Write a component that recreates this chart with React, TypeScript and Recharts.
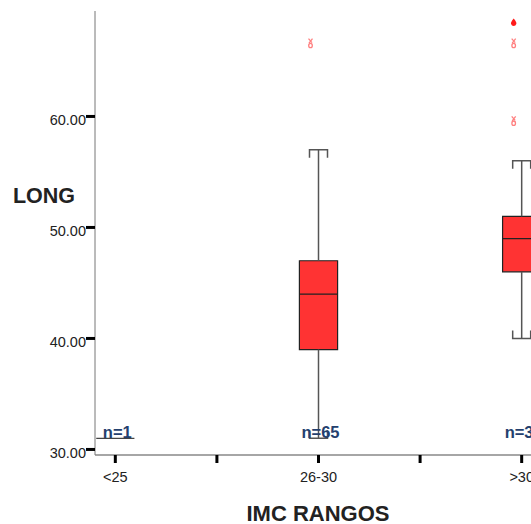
import React from 'react';
import {
  ComposedChart,
  XAxis,
  YAxis,
  Scatter,
  ReferenceArea,
  ReferenceLine,
} from 'recharts';

// ---- data ----
const categories = ['<25', '26-30', '>30'];
const counts = ['n=1', 'n=65', 'n=32'];
const mins = [31, 31, 40];
const q1s = [31, 39, 46];
const medians = [31, 44, 49];
const q3s = [31, 47, 51];
const maxs = [31, 57, 56];
const outlierCats = [1, 2, 2];
const outlierVals = [66.6, 66.6, 59.6];
const extremeCats = [2];
const extremeVals = [68.5];
const yTicks = [30, 40, 50, 60];
const xTicks = [0, 0.5, 1, 1.5, 2];
const yDomain = [29.5, 69.5];
const xDomain = [-0.1, 2.1];

// ---- styling constants ----
const FONT = '"Liberation Sans", Arial, sans-serif';
const HALF_BOX = 0.094;
const BOX_FILL = '#FF3333';
const BOX_STROKE = '#222';
const WHISKER = '#555';

const boxes = categories.map((c, i) => ({
  i,
  min: mins[i],
  q1: q1s[i],
  med: medians[i],
  q3: q3s[i],
  max: maxs[i],
}));
const capTop = boxes.filter((b) => b.q3 !== b.q1).map((b) => ({ x: b.i, y: b.max }));
const capBottom = boxes.filter((b) => b.q3 !== b.q1).map((b) => ({ x: b.i, y: b.min }));
const outlierData = outlierCats.map((c, k) => ({ x: c, y: outlierVals[k] }));
const extremeData = extremeCats.map((c, k) => ({ x: c, y: extremeVals[k] }));
const countData = categories.map((c, i) => ({ x: i, y: yDomain[0], label: counts[i] }));

const CapTopShape = (p: any) => (
  <path
    d={`M${p.cx - 9},${p.cy + 8} L${p.cx - 9},${p.cy} L${p.cx + 9},${p.cy} L${p.cx + 9},${p.cy + 8}`}
    fill="none"
    stroke={WHISKER}
    strokeWidth={1.5}
  />
);
const CapBottomShape = (p: any) => (
  <path
    d={`M${p.cx - 9},${p.cy - 8} L${p.cx - 9},${p.cy} L${p.cx + 9},${p.cy} L${p.cx + 9},${p.cy - 8}`}
    fill="none"
    stroke={WHISKER}
    strokeWidth={1.5}
  />
);
const OutlierShape = (p: any) => {
  const x = p.cx - 8;
  const y = p.cy;
  return (
    <g stroke="#FF8080" strokeWidth={1.3} fill="none">
      <path d={`M${x - 2},${y - 4.5} L${x + 1.5},${y - 0.5} M${x + 2},${y - 4.5} L${x - 1.5},${y}`} />
      <ellipse cx={x} cy={y + 2.3} rx={1.8} ry={2.2} />
    </g>
  );
};
const ExtremeShape = (p: any) => {
  const x = p.cx - 8;
  const y = p.cy;
  return (
    <path
      d={`M${x},${y - 3.5} Q${x + 3.4},${y + 0.5} ${x + 2.6},${y + 2} A2.7,2.7 0 0 1 ${x - 2.6},${y + 2} Q${x - 3.4},${y + 0.5} ${x},${y - 3.5} Z`}
      fill="#FF1A1A"
    />
  );
};
const CountShape = (p: any) => (
  <text
    x={p.cx + 2}
    y={p.cy - 17.5}
    textAnchor="middle"
    fontFamily={FONT}
    fontWeight="bold"
    fontSize={16.5}
    fill="#24406E"
  >
    {p.payload.label}
  </text>
);

const YTick = (p: any) => (
  <text
    x={p.x}
    y={p.y + 8.3}
    textAnchor="end"
    fontFamily={FONT}
    fontSize={14.5}
    fill="#222"
  >
    {Number(p.payload.value).toFixed(2)}
  </text>
);
const XTick = (p: any) => {
  const v = p.payload.value;
  if (!Number.isInteger(v)) return <g />;
  return (
    <text x={p.x} y={482} textAnchor="middle" fontFamily={FONT} fontSize={14.5} fill="#222">
      {categories[v]}
    </text>
  );
};

export default function App() {
  return (
    <div
      style={{
        position: 'fixed',
        left: 0,
        top: 0,
        width: 531,
        height: 524,
        overflow: 'hidden',
        background: '#fff',
      }}
    >
      <ComposedChart
        width={542}
        height={524}
        margin={{ top: 11, right: 0, bottom: 0, left: 0 }}
      >
        <XAxis
          xAxisId="top"
          orientation="top"
          type="number"
          domain={xDomain}
          height={0}
          tick={false}
          tickLine={false}
          axisLine={{ stroke: '#999', strokeWidth: 2 }}
        />
        <XAxis
          dataKey="x"
          type="number"
          domain={xDomain}
          ticks={xTicks}
          allowDataOverflow
          height={69}
          tickSize={8}
          tickMargin={2}
          tickLine={{ stroke: '#000', strokeWidth: 3 }}
          axisLine={{ stroke: '#888', strokeWidth: 1.5 }}
          tick={<XTick />}
          interval={0}
          label={{
            content: () => (
              <text
                x={318}
                y={521}
                textAnchor="middle"
                fontFamily={FONT}
                fontWeight="bold"
                fontSize={22}
                fill="#222"
              >
                IMC RANGOS
              </text>
            ),
          }}
        />
        <YAxis
          dataKey="y"
          type="number"
          domain={yDomain}
          ticks={yTicks}
          allowDataOverflow
          width={95}
          tickSize={9}
          tickMargin={0}
          tickLine={{ stroke: '#000', strokeWidth: 3 }}
          axisLine={{ stroke: '#777', strokeWidth: 1 }}
          tick={<YTick />}
          interval={0}
          label={{
            content: () => (
              <text
                x={44}
                y={203}
                textAnchor="middle"
                fontFamily={FONT}
                fontWeight="bold"
                fontSize={21.5}
                fill="#222"
              >
                LONG
              </text>
            ),
          }}
        />

        {boxes
          .filter((b) => b.q3 !== b.q1)
          .map((b) => (
            <ReferenceLine
              key={`wu${b.i}`}
              segment={[
                { x: b.i, y: b.q3 },
                { x: b.i, y: b.max },
              ]}
              stroke={WHISKER}
              strokeWidth={1.5}
            />
          ))}
        {boxes
          .filter((b) => b.q3 !== b.q1)
          .map((b) => (
            <ReferenceLine
              key={`wl${b.i}`}
              segment={[
                { x: b.i, y: b.q1 },
                { x: b.i, y: b.min },
              ]}
              stroke={WHISKER}
              strokeWidth={1.5}
            />
          ))}
        {boxes
          .filter((b) => b.q3 !== b.q1)
          .map((b) => (
            <ReferenceArea
              key={`box${b.i}`}
              x1={b.i - HALF_BOX}
              x2={b.i + HALF_BOX}
              y1={b.q1}
              y2={b.q3}
              fill={BOX_FILL}
              fillOpacity={1}
              stroke={BOX_STROKE}
              strokeWidth={1.2}
              ifOverflow="visible"
            />
          ))}
        {boxes.map((b) => (
          <ReferenceLine
            key={`med${b.i}`}
            segment={[
              { x: b.i - HALF_BOX, y: b.med },
              { x: b.i + HALF_BOX, y: b.med },
            ]}
            stroke={b.q3 !== b.q1 ? BOX_STROKE : '#444'}
            strokeWidth={1.3}
          />
        ))}

        <Scatter data={capTop} dataKey="y" shape={<CapTopShape />} isAnimationActive={false} />
        <Scatter data={capBottom} dataKey="y" shape={<CapBottomShape />} isAnimationActive={false} />
        <Scatter data={outlierData} dataKey="y" shape={<OutlierShape />} isAnimationActive={false} />
        <Scatter data={extremeData} dataKey="y" shape={<ExtremeShape />} isAnimationActive={false} />
        <Scatter data={countData} dataKey="y" shape={<CountShape />} isAnimationActive={false} />
      </ComposedChart>
    </div>
  );
}
